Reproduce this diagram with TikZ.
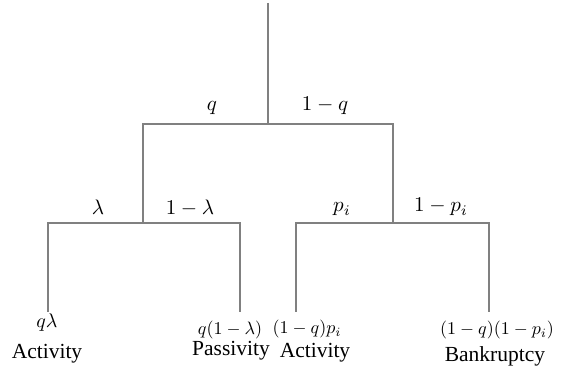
\documentclass[tikz,border=0pt]{standalone}
\usepackage{amsmath,fontspec}
\setmainfont{Liberation Serif}
\usetikzlibrary{positioning}
\definecolor{treegray}{RGB}{128,128,128}

\begin{document}
\begin{tikzpicture}[x=1pt,y=1pt,every node/.style={inner sep=0pt,anchor=base},
  branch/.style={draw=treegray,line width=1.7pt},
  prob/.style={scale=2.1},
  leafprob/.style={scale=1.8},
  outcome/.style={scale=2.15}]
\useasboundingbox (0,0) rectangle (571,372);
% skeleton of the tree
\coordinate (root) at (268,369);
\coordinate (fork) at (268,248);
\coordinate (upL) at (143,248);
\coordinate (upR) at (393,248);
\coordinate (forkL) at (143,149);
\coordinate (forkR) at (393,149);
\coordinate (cLL) at (48,149);
\coordinate (cLR) at (240,149);
\coordinate (cRL) at (296,149);
\coordinate (cRR) at (489,149);
\coordinate (leafLL) at (48,60);
\coordinate (leafLR) at (240,60);
\coordinate (leafRL) at (296,60);
\coordinate (leafRR) at (489,60);
\draw[branch] (root) -- (fork);
\draw[branch] (forkL) -- (upL) -- (upR) -- (forkR);
\draw[branch] (leafLL) -- (cLL) -- (cLR) -- (leafLR);
\draw[branch] (leafRL) -- (cRL) -- (cRR) -- (leafRR);
% branch probabilities
\node[prob] (pq) at (212,261) {$q$};
\node[prob] (pnq) at (325,261) {$1-q$};
\node[prob] (plam) at (98,157) {$\lambda$};
\node[prob] (pnlam) at (190,157) {$1-\lambda$};
\node[prob] (ppi) at (342,160) {$p_i$};
\node[prob] (pnpi) at (441,160) {$1-p_i$};
% leaves
\node[leafprob,scale=1.1] (vLL) at (47,44) {$q\lambda$};
\node[leafprob] (vLR) at (230,37) {$q(1-\lambda)$};
\node[leafprob] (vRL) at (307,38) {$(1-q)p_i$};
\node[leafprob] (vRR) at (497,37) {$(1-q)(1-p_i)$};
\node[outcome] (oLL) at (47,13) {Activity};
\node[outcome] (oLR) at (231,16) {Passivity};
\node[outcome] (oRL) at (315,14) {Activity};
\node[outcome] (oRR) at (495,10) {Bankruptcy};
\end{tikzpicture}
\end{document}
